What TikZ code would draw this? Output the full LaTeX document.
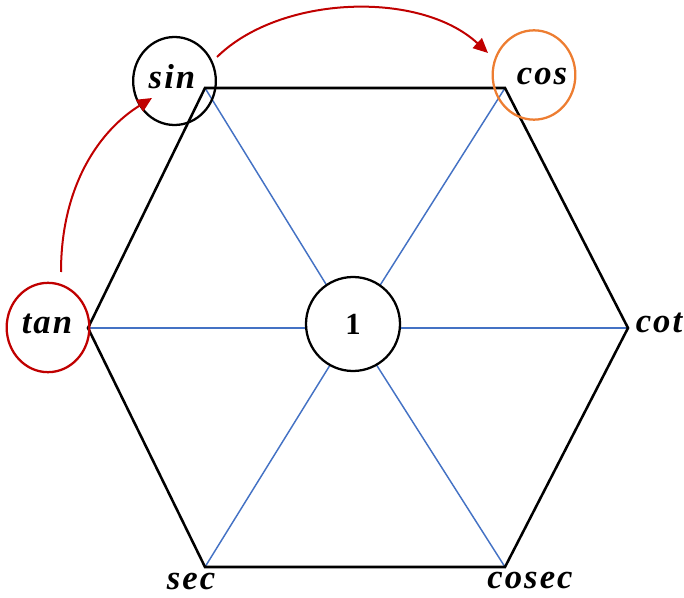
\documentclass[tikz,border=0pt]{standalone}
\usepackage{fontspec}
\setmainfont{Liberation Serif}
\newfontfamily\fnfont[LetterSpace=6]{Liberation Serif}
\usetikzlibrary{shapes.geometric,arrows.meta}
\definecolor{hexblue}{HTML}{4472C4}
\definecolor{arrowred}{HTML}{C00000}
\definecolor{ringorange}{HTML}{ED7D31}
\tikzset{
  edge/.style={line width=1.9pt, black, line join=miter},
  spoke/.style={line width=1.1pt, hexblue},
  ring/.style={ellipse, draw, line width=1.7pt, inner sep=0pt, minimum width=62pt, minimum height=66pt},
  fn/.style={font=\fnfont\fontsize{26}{26}\selectfont\bfseries\itshape, inner sep=0pt},
  curvearrow/.style={line width=1.5pt, arrowred, -{Triangle[length=11pt, width=10pt]}}
}
\begin{document}
\begin{tikzpicture}[x=0.75pt, y=-0.75pt]
\useasboundingbox (0,0) rectangle (684,598);
% hexagon corners and centre
\coordinate (tl) at (205,88);
\coordinate (tr) at (505,88);
\coordinate (r)  at (628,328);
\coordinate (br) at (505,567);
\coordinate (bl) at (205,567);
\coordinate (l)  at (88,328);
\coordinate (o)  at (353,328);
% spokes from the corners to the centre
\foreach \v in {tl,tr,r,br,bl,l} \draw[spoke] (\v) -- (o);
% central unit circle
\node[circle, draw, fill=white, line width=1.7pt, minimum size=70.5pt, inner sep=0pt,
      font=\fontsize{23}{23}\selectfont\bfseries] (c) at (353,324) {1};
% hexagon outline
\draw[edge] (tl) -- (tr) -- (r) -- (br) -- (bl) -- (l) -- cycle;
% rings around sin, cos, tan
\node[ring] (sinR) at (174.5,81) {};
\node[ring, draw=ringorange, minimum height=67pt] (cosR) at (534,75) {};
\node[ring, draw=arrowred, minimum height=67pt] (tanR) at (48,327.5) {};
% function names
\node[fn] (sin)   at (172,77)  {sin};
\node[fn] (cos)   at (542,77)  {cos};
\node[fn] (tan)   at (47,324)  {tan};
\node[fn] (cot)   at (659,323) {cot};
\node[fn] (sec)   at (191,581) {sec};
\node[fn] (cosec) at (530,580) {cosec};
% curved arrows
\coordinate (a1) at (61,272);
\coordinate (a2) at (152,98);
\coordinate (b1) at (217,57);
\coordinate (b2) at (488,53);
\draw[curvearrow] (a1) .. controls (61,185) and (100,130) .. (a2);
\draw[curvearrow] (b1) .. controls (280,-5) and (420,-10) .. (b2);
\end{tikzpicture}
\end{document}
